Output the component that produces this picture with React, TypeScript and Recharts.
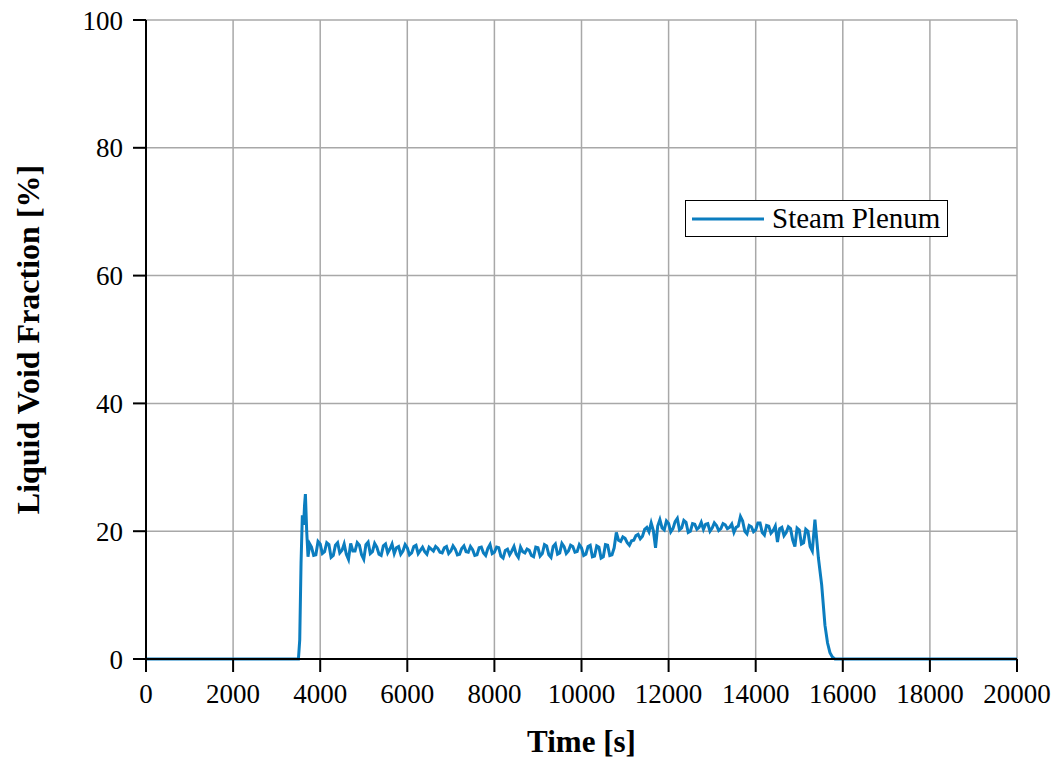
import React from 'react';
import { LineChart, Line, XAxis, YAxis, CartesianGrid } from 'recharts';

const xTicks = [0, 2000, 4000, 6000, 8000, 10000, 12000, 14000, 16000, 18000, 20000];
const yTicks = [0, 20, 40, 60, 80, 100];

const riseTimes = [0, 3500, 3530, 3560, 3590, 3620, 3640, 3660, 3690, 3720, 3760];
const riseValues = [0, 0, 3, 15, 22.5, 21, 24, 25.8, 20, 16, 18];

const plateauStart = 3800;
const plateauStep = 50;
const plateauValues = [
  17.5, 16.2, 16.3, 18.4, 18.0, 16.5, 16.8, 18.2, 17.9, 15.9, 16.2, 17.8, 18.2, 16.6, 17.0, 18.0, 16.4, 15.6, 18.1, 16.9,
  16.9, 18.2, 17.8, 16.3, 15.6, 17.9, 18.3, 16.5, 16.8, 18.1, 17.5, 16.4, 16.2, 17.7, 18.0, 16.6, 17.2, 18.0, 16.5, 17.4,
  17.6, 16.4, 16.9, 17.9, 17.4, 16.3, 16.6, 17.6, 17.8, 16.5, 17.0, 17.5, 16.8, 16.4, 17.5, 17.2, 16.9, 17.6, 17.3, 16.7,
  16.6, 17.4, 17.6, 16.5, 16.9, 17.7, 17.2, 16.3, 16.4, 17.3, 17.7, 16.8, 16.7, 17.6, 17.1, 16.2, 16.3, 17.4, 17.5, 16.6,
  16.2, 17.3, 17.9, 16.5, 16.7, 17.5, 17.4, 16.1, 15.8, 17.0, 17.2, 16.3, 16.9, 17.6, 16.4, 15.9, 17.5, 16.8, 16.6, 17.2,
  17.0, 16.2, 16.0, 17.5, 17.4, 16.1, 16.5, 17.9, 17.7, 16.3, 15.9, 17.6, 18.0, 16.4, 16.6, 18.1, 17.6, 16.5, 16.9, 17.8,
  17.6, 16.7, 16.8, 17.9, 17.4, 16.2, 16.4, 17.6, 17.8, 16.0, 16.1, 17.7, 17.5, 15.8, 16.0, 17.9, 17.8, 16.2, 16.3, 17.4,
  19.8, 18.6, 18.4, 19.1, 18.9, 18.2, 17.8, 18.5, 18.6, 19.3, 19.5, 18.8, 19.2, 20.3, 20.6, 19.9, 21.3, 20.1, 17.4, 20.8,
  21.8, 20.5, 20.2, 21.6, 21.2, 19.9, 20.4, 21.5, 22.0, 20.2, 20.5, 21.7, 21.4, 19.8, 20.0, 21.2, 21.1, 20.3, 20.6, 21.4,
  20.3, 21.1, 21.2, 20.0, 20.5, 21.3, 20.9, 20.1, 20.4, 21.2, 21.0, 20.4, 20.6, 21.1, 19.8, 20.6, 20.8, 22.3, 21.6, 20.0,
  19.6, 20.9, 20.7, 19.9, 20.2, 21.3, 21.3, 19.8, 19.4, 20.9, 20.8, 19.7, 20.1, 20.8, 18.3, 20.4, 20.6, 19.3, 19.8, 20.7,
  20.4, 18.6, 17.6, 20.5, 20.2, 18.0, 18.2, 20.3, 20.0, 17.6, 16.9,
];

const fallTimes = [15360, 15440, 15515, 15590, 15650, 15705, 15760, 15820, 16000, 20000];
const fallValues = [21.8, 15.8, 11.6, 5.3, 2.5, 1.0, 0.3, 0, 0, 0];

const seriesName = 'Steam Plenum';

const data: { t: number; v: number }[] = [];
riseTimes.forEach((t, i) => data.push({ t, v: riseValues[i] }));
plateauValues.forEach((v, i) => data.push({ t: plateauStart + i * plateauStep, v }));
fallTimes.forEach((t, i) => data.push({ t, v: fallValues[i] }));

const FONT = '"Liberation Serif", "Times New Roman", serif';
const BLUE = '#0b7dbf';

export default function App() {
  return (
    <div style={{ position: 'absolute', left: 0, top: 0, width: 1061, height: 762, background: '#fff' }}>
      <LineChart
        width={1061}
        height={762}
        data={data}
        margin={{ top: 20, right: 44, left: 0, bottom: 0 }}
        style={{ fontFamily: FONT }}
      >
        <CartesianGrid stroke="#a8a8a8" strokeWidth={1.5} horizontalValues={yTicks} verticalValues={xTicks} />
        <XAxis
          dataKey="t"
          type="number"
          domain={[0, 20000]}
          ticks={xTicks}
          interval={0}
          height={103}
          tickSize={13}
          tickMargin={12}
          axisLine={{ stroke: '#000', strokeWidth: 2 }}
          tickLine={{ stroke: '#000', strokeWidth: 2 }}
          tick={{ fill: '#000', fontSize: 27, fontFamily: FONT }}
          label={{
            value: 'Time [s]',
            position: 'insideBottom',
            offset: 10,
            style: { fill: '#000', fontSize: 31, fontWeight: 'bold', fontFamily: FONT },
          }}
        />
        <XAxis
          xAxisId="top"
          orientation="top"
          dataKey="t"
          type="number"
          domain={[0, 20000]}
          height={0}
          tick={false}
          tickLine={false}
          axisLine={{ stroke: '#000', strokeWidth: 2 }}
        />
        <YAxis
          type="number"
          domain={[0, 100]}
          ticks={yTicks}
          interval={0}
          width={146}
          tickSize={13}
          tickMargin={10}
          axisLine={{ stroke: '#000', strokeWidth: 2 }}
          tickLine={{ stroke: '#000', strokeWidth: 2 }}
          tick={{ fill: '#000', fontSize: 27, fontFamily: FONT }}
          label={{
            value: 'Liquid Void Fraction [%]',
            angle: -90,
            position: 'insideLeft',
            offset: 28,
            style: { textAnchor: 'middle', fill: '#000', fontSize: 32, fontWeight: 'bold', fontFamily: FONT },
          }}
        />
        <YAxis
          yAxisId="right"
          orientation="right"
          domain={[0, 100]}
          width={0}
          tick={false}
          tickLine={false}
          axisLine={{ stroke: '#000', strokeWidth: 2 }}
        />
        <Line
          type="linear"
          dataKey="v"
          stroke={BLUE}
          strokeWidth={3}
          dot={false}
          isAnimationActive={false}
          name={seriesName}
        />
      </LineChart>
      <div
        style={{
          position: 'absolute',
          left: 685,
          top: 200,
          width: 261,
          height: 35,
          border: '1px solid #000',
          background: '#fff',
          display: 'flex',
          alignItems: 'center',
          fontFamily: FONT,
          fontSize: 29,
          color: '#000',
          whiteSpace: 'nowrap',
          overflow: 'hidden',
        }}
      >
        <svg width={80} height={10} style={{ marginLeft: 4, marginRight: 2, flex: 'none' }}>
          <line x1={2} y1={5} x2={74} y2={5} stroke={BLUE} strokeWidth={3} />
        </svg>
        <span>{seriesName}</span>
      </div>
    </div>
  );
}
